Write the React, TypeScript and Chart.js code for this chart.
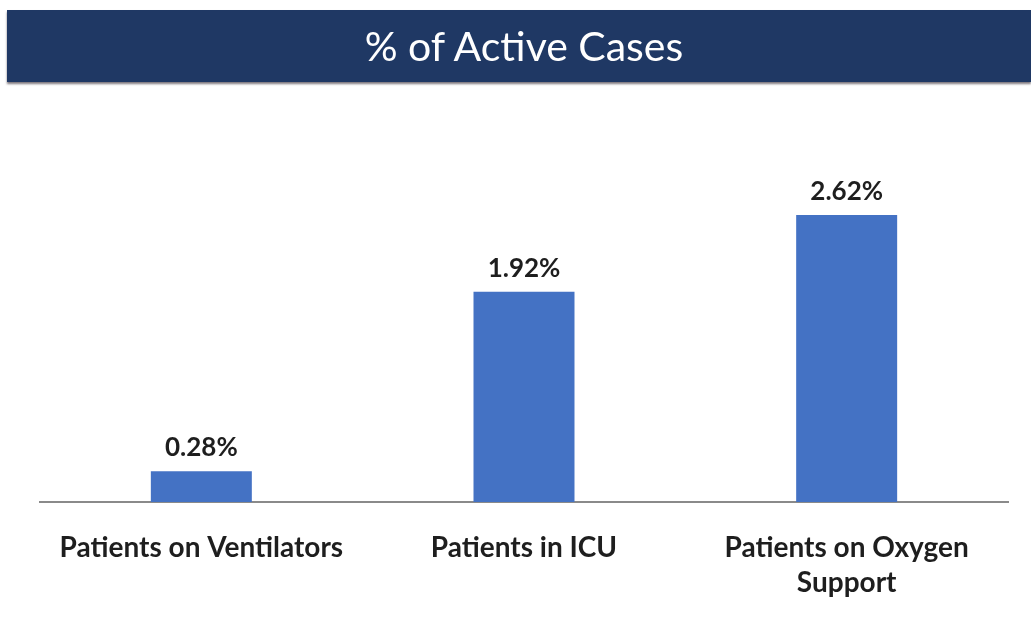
import React, { useEffect, useRef } from "react";
import { Chart, registerables } from "chart.js";

Chart.register(...registerables);

const TITLE = "% of Active Cases";
const categories: string[][] = [
  ["Patients on Ventilators"],
  ["Patients in ICU"],
  ["Patients on Oxygen", "Support"],
];
const values: number[] = [0.28, 1.92, 2.62];

const valueLabels = {
  id: "valueLabels",
  afterDatasetsDraw(chart: any) {
    const ctx = chart.ctx;
    const meta = chart.getDatasetMeta(0);
    ctx.save();
    ctx.font = "bold 26px Lato";
    ctx.fillStyle = "#1e1e1e";
    ctx.textAlign = "center";
    ctx.textBaseline = "alphabetic";
    meta.data.forEach((bar: any, i: number) => {
      ctx.fillText(values[i].toFixed(2) + "%", bar.x, bar.y - 15);
    });
    ctx.restore();
  },
};

export default function App() {
  const ref = useRef<HTMLCanvasElement | null>(null);
  useEffect(() => {
    if (!ref.current) return;
    const chart = new Chart(ref.current, {
      type: "bar",
      data: {
        labels: categories,
        datasets: [
          {
            data: values,
            backgroundColor: "#4472C4",
            barPercentage: 0.313,
            categoryPercentage: 1,
          },
        ],
      },
      options: {
        animation: false,
        responsive: false,
        maintainAspectRatio: false,
        layout: { padding: { left: 40, right: 23, top: 100, bottom: 0 } },
        plugins: {
          legend: { display: false },
          title: { display: false },
          tooltip: { enabled: false },
        },
        scales: {
          x: {
            afterFit: (scale: any) => {
              scale.height = 118;
            },
            grid: { display: false, drawTicks: false },
            border: { display: true, color: "#8a8a8a", width: 2 },
            ticks: {
              color: "#1e1e1e",
              font: { family: "Lato", size: 28, weight: "bold", lineHeight: 1.25 },
              padding: 28,
              maxRotation: 0,
              autoSkip: false,
            },
          },
          y: {
            display: false,
            min: 0,
            max: 3.67,
          },
        },
      },
      plugins: [valueLabels],
    });
    return () => chart.destroy();
  }, []);

  return (
    <div
      style={{
        position: "fixed",
        left: 0,
        top: 0,
        width: 1031,
        height: 620,
        background: "#ffffff",
        overflow: "hidden",
      }}
    >
      <canvas ref={ref} width={1031} height={620} style={{ position: "absolute", left: 0, top: 0 }} />
      <div
        style={{
          position: "absolute",
          left: 7,
          top: 10,
          width: 1024,
          height: 72,
          background: "#1F3864",
          boxShadow: "0 2px 2px rgba(40,30,40,0.6)",
          color: "#ffffff",
          fontFamily: "Lato",
          fontSize: 41,
          lineHeight: "72px",
          textAlign: "center",
          paddingLeft: 10,
          boxSizing: "border-box",
        }}
      >
        {TITLE}
      </div>
    </div>
  );
}
